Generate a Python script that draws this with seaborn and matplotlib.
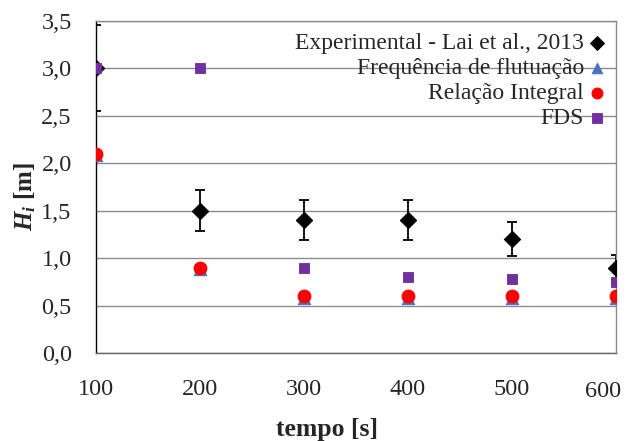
import matplotlib
matplotlib.use("Agg")
import matplotlib.pyplot as plt
import matplotlib.transforms as mtransforms
from matplotlib.ticker import MultipleLocator, FuncFormatter
import seaborn as sns

sns.set_theme(style="white")
plt.rcParams["font.family"] = ["Liberation Serif", "DejaVu Serif"]
plt.rcParams["mathtext.fontset"] = "custom"
plt.rcParams["mathtext.it"] = "Liberation Serif:italic:bold"
plt.rcParams["mathtext.rm"] = "Liberation Serif:bold"

tempo = [100, 200, 300, 400, 500, 600]
experimental = [3.0, 1.5, 1.4, 1.4, 1.2, 0.9]
experimental_err = [0.45, 0.22, 0.21, 0.21, 0.18, 0.13]
frequencia = [2.08, 0.88, 0.58, 0.58, 0.58, 0.58]
relacao = [2.1, 0.9, 0.6, 0.6, 0.6, 0.6]
fds = [3.0, 3.0, 0.9, 0.8, 0.78, 0.75]

labels = ["Experimental - Lai et al., 2013", "Frequência de flutuação",
          "Relação Integral", "FDS"]

fig = plt.figure(figsize=(6.25, 4.41), dpi=100)
ax = fig.add_axes([0.1536, 0.1995, 0.832, 0.754])

ax.errorbar(tempo, experimental, yerr=experimental_err, fmt="none",
            ecolor="black", elinewidth=1.3, capsize=3.5, capthick=1.3, zorder=2)
sns.scatterplot(x=tempo, y=experimental, ax=ax, marker="D", s=70,
                color="black", edgecolor="black", label=labels[0], zorder=3)
sns.scatterplot(x=tempo, y=frequencia, ax=ax, marker="^", s=80,
                color="#4472C4", edgecolor="#4472C4", label=labels[1], zorder=4)
sns.scatterplot(x=tempo, y=relacao, ax=ax, marker="o", s=85,
                color="#FF0000", edgecolor="#FF0000", label=labels[2], zorder=5)
sns.scatterplot(x=tempo, y=fds, ax=ax, marker="s", s=62,
                color="#7030A0", edgecolor="#7030A0", label=labels[3], zorder=6)

ax.set_xlim(100, 600)
ax.set_ylim(0, 3.5)
ax.xaxis.set_major_locator(MultipleLocator(100))
ax.xaxis.set_minor_locator(MultipleLocator(20))
ax.yaxis.set_major_locator(MultipleLocator(0.5))
ax.yaxis.set_minor_locator(MultipleLocator(0.1))
ax.yaxis.set_major_formatter(FuncFormatter(lambda v, p: f"{v:.1f}".replace(".", ",")))

ax.grid(axis="y", which="major", color="#8c8c8c", linewidth=1.0)
ax.set_axisbelow(True)
for s in ax.spines.values():
    s.set_color("#8c8c8c")
    s.set_linewidth(1.0)
ax.spines["left"].set_color("black")
ax.spines["bottom"].set_color("#666666")

ax.tick_params(axis="both", which="major", direction="inout", length=7,
               width=1.0, color="black", labelsize=17.5)
ax.tick_params(axis="both", which="minor", direction="in", length=4,
               width=0.8, color="black")
ax.tick_params(axis="x", which="major", pad=15)
ax.tick_params(axis="y", which="major", pad=14)

# nudge the "600" tick label inward so it stays inside the figure
fig.canvas.draw()
for tick in ax.xaxis.get_major_ticks():
    if abs(tick.get_loc() - 600) < 1e-6:
        lbl = tick.label1
        lbl.set_transform(lbl.get_transform() +
                          mtransforms.ScaledTranslation(-13 / 100, -2 / 100,
                                                        fig.dpi_scale_trans))

ax.set_xlabel("tempo [s]", fontsize=18.5, fontweight="bold")
ax.xaxis.set_label_coords(0.444, -0.195)
ax.set_ylabel(r"$\mathit{H_i}$ [m]", fontsize=18, fontweight="bold")
ax.yaxis.set_label_coords(-0.112, 0.47)

leg = ax.legend(loc="upper right", markerfirst=False, frameon=False,
                fontsize=17, handletextpad=0.25, labelspacing=0.15,
                borderaxespad=0.05, borderpad=0.45, handlelength=0.6,
                markerscale=0.85)
for t in leg.get_texts():
    t.set_ha("right")

fig.savefig("out.png", dpi=100)
